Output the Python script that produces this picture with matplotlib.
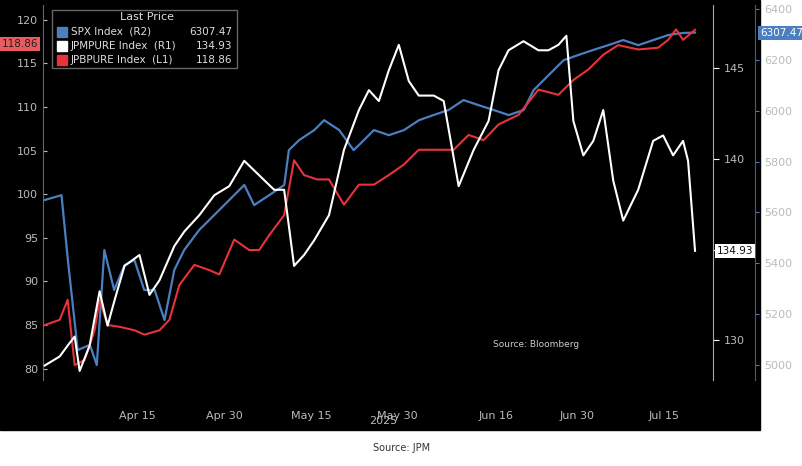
import matplotlib
matplotlib.use("Agg")
import matplotlib.pyplot as plt
from matplotlib.patches import Rectangle
import numpy as np

start = np.datetime64("2025-03-30")
spx_days = [0,2.9,4,5.7,7.8,9,10.3,12,13.8,15.5,17.2,19,20.7,22.4,24.1,26.7,29.3,31.9,34.5,36.2,38.8,41.4,42.2,44,46.6,48.3,50.9,53.4,55.2,56.9,59.5,62.1,64.7,67.2,69.8,72.4,75,77.6,80.2,82.8,84.5,87.1,89.7,92.2,94.8,97.4,100,102.6,105.2,107.8,110.3,112.4]
spx_vals = [5649,5668,5413,5059,5079,5000,5452,5295,5393,5413,5295,5295,5177,5374,5452,5531,5590,5649,5708,5629,5668,5708,5845,5885,5924,5963,5924,5845,5885,5924,5904,5924,5963,5983,6003,6042,6022,6003,5983,6003,6081,6140,6199,6219,6239,6258,6278,6258,6278,6298,6306,6307.47]
pure_x = [45,60,68,75,80,90,100,108,115,125,140,150,160,175,185,200,215,230,245,260,275,285,295,305,315,330,345,360,370,380,390,400,410,420,435,445,460,475,490,500,510,525,540,550,560,568,575,585,595,605,615,625,640,655,665,675,685,690,697]
pure_vals = [128.6,129.1,129.7,130.2,128.3,129.7,132.7,130.8,132.2,134.1,134.7,132.5,133.3,135.2,136.0,136.9,138.0,138.5,139.9,139.1,138.3,138.3,134.1,134.7,135.5,136.9,140.5,142.7,143.8,143.2,144.9,146.3,144.3,143.5,143.5,143.2,138.5,140.5,142.1,144.9,146.0,146.5,146.0,146.0,146.3,146.8,142.1,140.2,141.0,142.7,138.8,136.6,138.3,141.0,141.3,140.2,141.0,139.9,134.93]
pb_x = [45,60,68,75,85,95,100,108,120,135,145,160,170,180,195,210,220,235,250,260,270,285,295,305,318,330,345,360,375,390,405,420,440,455,470,485,500,520,540,560,575,590,605,620,640,660,670,678,685,697]
pb_vals = [85.0,85.6,87.9,80.4,81.0,84.4,87.9,85.0,84.8,84.4,83.9,84.4,85.6,89.6,91.9,91.3,90.8,94.8,93.6,93.6,95.3,97.6,103.9,102.2,101.7,101.7,98.8,101.1,101.1,102.2,103.4,105.1,105.1,105.1,106.8,106.2,108.0,109.1,112.0,111.4,113.1,114.3,116.0,117.1,116.6,116.8,117.7,118.9,117.7,118.86]
tick_dates = ["2025-04-15","2025-04-30","2025-05-15","2025-05-30","2025-06-16","2025-06-30","2025-07-15"]
tick_labels = ["Apr 15","Apr 30","May 15","May 30","Jun 16","Jun 30","Jul 15"]

px_per_day = 5.8
pure_days = [(x-45)/px_per_day for x in pure_x]
pb_days = [(x-45)/px_per_day for x in pb_x]
tick_days = [(np.datetime64(d)-start).astype(int) for d in tick_dates]

W, H = 803, 466
fig = plt.figure(figsize=(W/100, H/100), dpi=100)
fig.patch.set_facecolor("white")
fig.add_artist(Rectangle((0, 36/H), 760/W, 1-36/H, transform=fig.transFigure, color="black", zorder=0))

ax = fig.add_axes([43/W, 1-380/H, 667/W, 375/H])
ax.set_facecolor("black")
ax2 = ax.twinx(); ax3 = ax.twinx()
for a in (ax, ax2, ax3):
    a.patch.set_alpha(0)
    for s in a.spines.values(): s.set_visible(False)
ax.set_xlim(-0.3, 115)
gray = "#bbbbbb"
ax.plot(pb_days, pb_vals, color="#e8323c", lw=1.5, zorder=3)
ax2.plot(pure_days, pure_vals, color="white", lw=1.5, zorder=4)
ax3.plot(spx_days, spx_vals, color="#4a7fc0", lw=1.6, zorder=2)
ax3.set_zorder(0); ax2.set_zorder(2); ax.set_zorder(1)
ax.set_ylim(78.7, 121.7)
ax2.set_ylim(127.8, 148.5)
ax3.set_ylim(4941, 6416)

ax.spines["left"].set_visible(True); ax.spines["left"].set_color("#666666")
ax.set_yticks([80,85,90,95,100,105,110,115,120])
ax.tick_params(axis="y", colors=gray, labelsize=8, length=3, direction="in", labelcolor=gray)
ax2.spines["right"].set_visible(True); ax2.spines["right"].set_color("#aaaaaa")
ax2.spines["right"].set_position(("axes", 1.0045))
ax2.set_yticks([130,135,140,145]); ax2.set_yticklabels(["130","","140","145"])
ax2.tick_params(axis="y", colors="white", labelsize=8, length=4, labelcolor=gray)
ax3.spines["right"].set_visible(True); ax3.spines["right"].set_color("#3a5f90")
ax3.spines["right"].set_position(("axes", 1.068))
ax3.set_yticks(range(5000, 6401, 200))
ax3.tick_params(axis="y", colors="#4a7fc0", labelsize=8, length=3, labelcolor=gray)

ax.set_xticks(tick_days); ax.set_xticklabels(tick_labels)
ax.tick_params(axis="x", colors=gray, labelsize=8, length=0, pad=22)
fig.text(383/W, 1-421/H, "2025", color=gray, fontsize=8, ha="center", va="center")

ax.text(85, 82.5, "Source: Bloomberg", color="#cccccc", fontsize=6.5, ha="center")

# legend box
lx = 52/W
fig.add_artist(Rectangle((lx, 1-68/H), 185/W, 58/H, transform=fig.transFigure, facecolor="black", edgecolor="#666666", lw=1, zorder=5))
fig.text(147/W, 1-17/H, "Last Price", color="#dddddd", fontsize=8, ha="center", va="center", zorder=6)
for i, (lab, val, c) in enumerate([("SPX Index  (R2)", "6307.47", "#4a7fc0"), ("JPMPURE Index  (R1)", "134.93", "white"), ("JPBPURE Index  (L1)", "118.86", "#e8323c")]):
    yy = 1-(32+i*14)/H
    fig.add_artist(Rectangle((57/W, yy-5/H), 10/W, 10/H, transform=fig.transFigure, color=c, zorder=6))
    fig.text(71/W, yy, lab, color="#dddddd", fontsize=7.5, va="center", zorder=6)
    fig.text(232/W, yy, val, color="#dddddd", fontsize=7.5, va="center", ha="right", zorder=6)

# value tags
fig.text(20/W, 1-44/H, "118.86", color="#222222", fontsize=7.5, ha="center", va="center", zorder=7,
         bbox=dict(boxstyle="square,pad=0.2", fc="#e85c60", ec="none"))
fig.text(735/W, 1-251/H, "134.93", color="#111111", fontsize=7.5, ha="center", va="center", zorder=7,
         bbox=dict(boxstyle="square,pad=0.2", fc="white", ec="none"))
fig.text(782/W, 1-33/H, "6307.47", color="white", fontsize=7.5, ha="center", va="center", zorder=7,
         bbox=dict(boxstyle="square,pad=0.2", fc="#4a7fc0", ec="none"))

fig.text(402/W, 1-448/H, "Source: JPM", color="#333333", fontsize=7, ha="center", va="center")
fig.savefig("out.png", dpi=100)
